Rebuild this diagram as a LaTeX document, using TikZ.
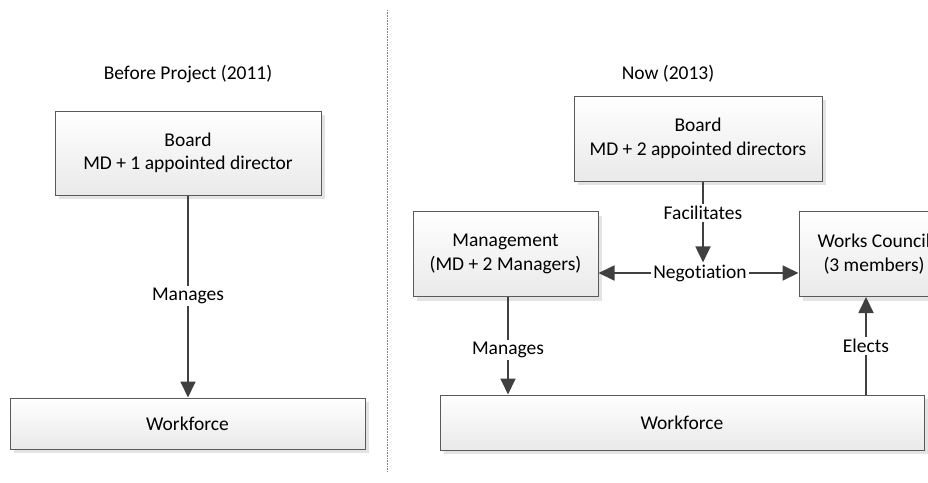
\documentclass[tikz,border=0pt]{standalone}
\usepackage{fontspec}
\setmainfont[Ligatures=NoCommon]{Carlito}
\usetikzlibrary{arrows.meta,shadows}
\definecolor{linec}{HTML}{404040}
\definecolor{boxborder}{HTML}{5A5A5A}
\newcommand\myfs{\fontsize{19.5}{23.5}\selectfont}
\begin{document}
\begin{tikzpicture}[x=1pt,y=-1pt,
 box/.style={draw=boxborder, line width=1pt, top color=white, bottom color=gray!17,
   drop shadow={shadow xshift=4pt, shadow yshift=-4pt, fill=gray!22, opacity=1},
   align=center, font=\myfs, inner sep=0pt},
 lbl/.style={font=\myfs, inner sep=2pt, fill=white},
 ttl/.style={font=\myfs},
 conn/.style={draw=linec, line width=1.8pt},
 arr/.style={conn, -{Triangle[length=16pt,width=15pt]}},
 divider/.style={draw=gray, line width=0.8pt, dash pattern=on 0.8pt off 0.8pt}]
\useasboundingbox (0,0) rectangle (928,482);
\clip (0,0) rectangle (928,482);
% left half
\node[ttl] (t1) at (188,74) {Before Project (2011)};
\node[box, minimum width=266pt, minimum height=84pt] (bL) at (188,153) {Board\\MD + 1 appointed director};
\node[box, minimum width=355pt, minimum height=51pt] (wL) at (187.5,423.5) {Workforce};
\node[lbl] (mL) at (188,296) {Manages};
\draw[conn] (mL.north |- bL.south) -- (mL.north);
\draw[arr] (mL.south) -- (mL.south |- wL.north);
% divider
\coordinate (d1) at (387,10);
\coordinate (d2) at (387,472);
\draw[divider] (d1) -- (d2);
% right half
\node[ttl] (t2) at (668,74) {Now (2013)};
\node[box, minimum width=248pt, minimum height=85pt] (bR) at (698,138.5) {Board\\MD + 2 appointed directors};
\node[box, minimum width=185pt, minimum height=85pt] (mg) at (505.5,254) {Management\\(MD + 2 Managers)};
\node[box, minimum width=150pt, minimum height=85pt] (wc) at (874,254) {Works Council\\(3 members)};
\node[box, minimum width=484pt, minimum height=55pt] (wR) at (682,422.5) {Workforce};
\node[lbl] (fac) at (703,213) {Facilitates};
\node[lbl] (neg) at (700,273) {Negotiation};
\node[lbl] (mR) at (508,350) {Manages};
\node[lbl] (el) at (866,346) {Elects};
\draw[conn] (fac.north |- bR.south) -- (fac.north);
\draw[arr] (fac.south) -- (fac.south |- neg.north);
\draw[arr] (neg.west) -- (mg.east |- neg.west);
\draw[arr] (neg.east) -- (wc.west |- neg.east);
\draw[conn] (mR.north |- mg.south) -- (mR.north);
\draw[arr] (mR.south) -- (mR.south |- wR.north);
\draw[conn] (el.south |- wR.north) -- (el.south);
\draw[arr] (el.north) -- (el.north |- wc.south);
\end{tikzpicture}
\end{document}
